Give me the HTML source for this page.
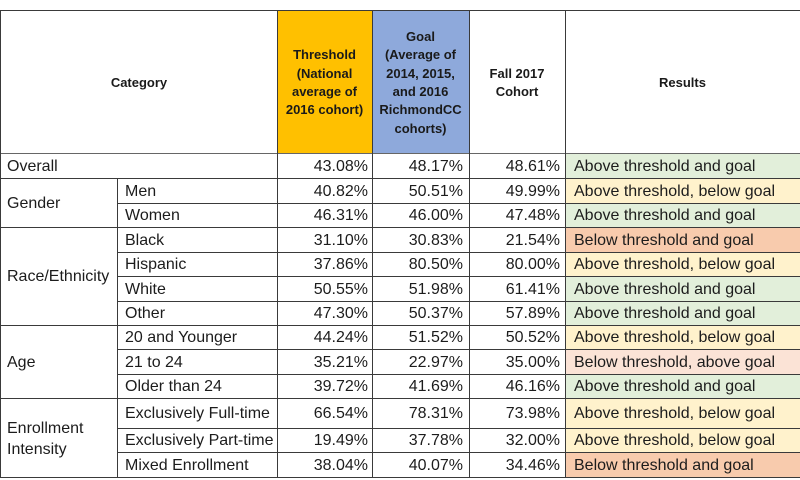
<!DOCTYPE html>
<html><head><meta charset="utf-8"><style>
html,body{margin:0;padding:0;background:#fff;}
body{width:800px;height:480px;position:relative;overflow:hidden;font-family:"Liberation Sans",Arial,sans-serif;color:#1c1c1c;}
.c{position:absolute;display:flex;align-items:center;font-size:16px;white-space:nowrap;box-sizing:border-box;padding-top:2px;}
.r{justify-content:flex-end;}
.h{position:absolute;display:flex;align-items:center;justify-content:center;text-align:center;font-weight:bold;font-size:13px;line-height:18.3px;color:#1a1a1a;padding-top:2px;box-sizing:border-box;}
.hl{position:absolute;height:1px;background:#3a3a3a;}
.vl{position:absolute;width:1px;background:#3a3a3a;}
.g{background:#E2EFDA;} .y{background:#FFF2CC;} .o{background:#F8CBAD;} .p{background:#FBE3D6;}
</style></head><body>

<div style="position:absolute;left:277px;top:11px;width:95px;height:142px;background:#FFC000;"></div>
<div style="position:absolute;left:372px;top:11px;width:97px;height:142px;background:#8EA9DB;"></div>

<div class="h" style="left:1px;top:11px;width:276px;height:142px;">Category</div>
<div class="h" style="left:277px;top:11px;width:95px;height:142px;">Threshold<br>(National<br>average of<br>2016 cohort)</div>
<div class="h" style="left:372px;top:11px;width:97px;height:142px;">Goal<br>(Average of<br>2014, 2015,<br>and 2016<br>RichmondCC<br>cohorts)</div>
<div class="h" style="left:469px;top:11px;width:96px;height:142px;">Fall 2017<br>Cohort</div>
<div class="h" style="left:565px;top:11px;width:235px;height:142px;">Results</div>

<div class="c g" style="left:566px;top:154px;width:234px;height:24px;"></div>
<div class="c y" style="left:566px;top:179px;width:234px;height:24px;"></div>
<div class="c g" style="left:566px;top:204px;width:234px;height:23px;"></div>
<div class="c o" style="left:566px;top:228px;width:234px;height:24px;"></div>
<div class="c y" style="left:566px;top:253px;width:234px;height:23px;"></div>
<div class="c g" style="left:566px;top:277px;width:234px;height:24px;"></div>
<div class="c g" style="left:566px;top:302px;width:234px;height:23px;"></div>
<div class="c y" style="left:566px;top:326px;width:234px;height:23px;"></div>
<div class="c p" style="left:566px;top:350px;width:234px;height:24px;"></div>
<div class="c g" style="left:566px;top:375px;width:234px;height:23px;"></div>
<div class="c y" style="left:566px;top:399px;width:234px;height:29px;"></div>
<div class="c y" style="left:566px;top:429px;width:234px;height:23px;"></div>
<div class="c o" style="left:566px;top:453px;width:234px;height:24px;"></div>

<div class="c" style="left:7px;top:153px;height:25px;">Overall</div>
<div class="c" style="left:7px;top:178px;height:49px;">Gender</div>
<div class="c" style="left:7px;top:227px;height:98px;">Race/Ethnicity</div>
<div class="c" style="left:7px;top:325px;height:73px;">Age</div>
<div class="c" style="left:7px;top:398px;height:79px;line-height:21px;">Enrollment<br>Intensity</div>

<div class="c" style="left:125px;top:178px;height:25px;">Men</div>
<div class="c" style="left:125px;top:203px;height:24px;">Women</div>
<div class="c" style="left:125px;top:227px;height:25px;">Black</div>
<div class="c" style="left:125px;top:252px;height:24px;">Hispanic</div>
<div class="c" style="left:125px;top:276px;height:25px;">White</div>
<div class="c" style="left:125px;top:301px;height:24px;">Other</div>
<div class="c" style="left:125px;top:325px;height:24px;">20 and Younger</div>
<div class="c" style="left:125px;top:349px;height:25px;">21 to 24</div>
<div class="c" style="left:125px;top:374px;height:24px;">Older than 24</div>
<div class="c" style="left:125px;top:398px;height:30px;">Exclusively Full-time</div>
<div class="c" style="left:125px;top:428px;height:24px;">Exclusively Part-time</div>
<div class="c" style="left:125px;top:452px;height:25px;">Mixed Enrollment</div>

<div class="c r" style="left:277px;width:91px;top:153px;height:25px;">43.08%</div>
<div class="c r" style="left:277px;width:91px;top:178px;height:25px;">40.82%</div>
<div class="c r" style="left:277px;width:91px;top:203px;height:24px;">46.31%</div>
<div class="c r" style="left:277px;width:91px;top:227px;height:25px;">31.10%</div>
<div class="c r" style="left:277px;width:91px;top:252px;height:24px;">37.86%</div>
<div class="c r" style="left:277px;width:91px;top:276px;height:25px;">50.55%</div>
<div class="c r" style="left:277px;width:91px;top:301px;height:24px;">47.30%</div>
<div class="c r" style="left:277px;width:91px;top:325px;height:24px;">44.24%</div>
<div class="c r" style="left:277px;width:91px;top:349px;height:25px;">35.21%</div>
<div class="c r" style="left:277px;width:91px;top:374px;height:24px;">39.72%</div>
<div class="c r" style="left:277px;width:91px;top:398px;height:30px;">66.54%</div>
<div class="c r" style="left:277px;width:91px;top:428px;height:24px;">19.49%</div>
<div class="c r" style="left:277px;width:91px;top:452px;height:25px;">38.04%</div>

<div class="c r" style="left:372px;width:91px;top:153px;height:25px;">48.17%</div>
<div class="c r" style="left:372px;width:91px;top:178px;height:25px;">50.51%</div>
<div class="c r" style="left:372px;width:91px;top:203px;height:24px;">46.00%</div>
<div class="c r" style="left:372px;width:91px;top:227px;height:25px;">30.83%</div>
<div class="c r" style="left:372px;width:91px;top:252px;height:24px;">80.50%</div>
<div class="c r" style="left:372px;width:91px;top:276px;height:25px;">51.98%</div>
<div class="c r" style="left:372px;width:91px;top:301px;height:24px;">50.37%</div>
<div class="c r" style="left:372px;width:91px;top:325px;height:24px;">51.52%</div>
<div class="c r" style="left:372px;width:91px;top:349px;height:25px;">22.97%</div>
<div class="c r" style="left:372px;width:91px;top:374px;height:24px;">41.69%</div>
<div class="c r" style="left:372px;width:91px;top:398px;height:30px;">78.31%</div>
<div class="c r" style="left:372px;width:91px;top:428px;height:24px;">37.78%</div>
<div class="c r" style="left:372px;width:91px;top:452px;height:25px;">40.07%</div>

<div class="c r" style="left:469px;width:91px;top:153px;height:25px;">48.61%</div>
<div class="c r" style="left:469px;width:91px;top:178px;height:25px;">49.99%</div>
<div class="c r" style="left:469px;width:91px;top:203px;height:24px;">47.48%</div>
<div class="c r" style="left:469px;width:91px;top:227px;height:25px;">21.54%</div>
<div class="c r" style="left:469px;width:91px;top:252px;height:24px;">80.00%</div>
<div class="c r" style="left:469px;width:91px;top:276px;height:25px;">61.41%</div>
<div class="c r" style="left:469px;width:91px;top:301px;height:24px;">57.89%</div>
<div class="c r" style="left:469px;width:91px;top:325px;height:24px;">50.52%</div>
<div class="c r" style="left:469px;width:91px;top:349px;height:25px;">35.00%</div>
<div class="c r" style="left:469px;width:91px;top:374px;height:24px;">46.16%</div>
<div class="c r" style="left:469px;width:91px;top:398px;height:30px;">73.98%</div>
<div class="c r" style="left:469px;width:91px;top:428px;height:24px;">32.00%</div>
<div class="c r" style="left:469px;width:91px;top:452px;height:25px;">34.46%</div>

<div class="c" style="left:574px;top:153px;height:25px;">Above threshold and goal</div>
<div class="c" style="left:574px;top:178px;height:25px;">Above threshold, below goal</div>
<div class="c" style="left:574px;top:203px;height:24px;">Above threshold and goal</div>
<div class="c" style="left:574px;top:227px;height:25px;">Below threshold and goal</div>
<div class="c" style="left:574px;top:252px;height:24px;">Above threshold, below goal</div>
<div class="c" style="left:574px;top:276px;height:25px;">Above threshold and goal</div>
<div class="c" style="left:574px;top:301px;height:24px;">Above threshold and goal</div>
<div class="c" style="left:574px;top:325px;height:24px;">Above threshold, below goal</div>
<div class="c" style="left:574px;top:349px;height:25px;">Below threshold, above goal</div>
<div class="c" style="left:574px;top:374px;height:24px;">Above threshold and goal</div>
<div class="c" style="left:574px;top:398px;height:30px;">Above threshold, below goal</div>
<div class="c" style="left:574px;top:428px;height:24px;">Above threshold, below goal</div>
<div class="c" style="left:574px;top:452px;height:25px;">Below threshold and goal</div>

<div class="hl" style="left:0;top:10px;width:800px;"></div>
<div class="hl" style="left:0;top:153px;width:800px;background:#666;"></div>
<div class="hl" style="left:0;top:178px;width:800px;"></div>
<div class="hl" style="left:117px;top:203px;width:683px;"></div>
<div class="hl" style="left:0;top:227px;width:800px;"></div>
<div class="hl" style="left:117px;top:252px;width:683px;"></div>
<div class="hl" style="left:117px;top:276px;width:683px;"></div>
<div class="hl" style="left:117px;top:301px;width:683px;"></div>
<div class="hl" style="left:0;top:325px;width:800px;"></div>
<div class="hl" style="left:117px;top:349px;width:683px;"></div>
<div class="hl" style="left:117px;top:374px;width:683px;"></div>
<div class="hl" style="left:0;top:398px;width:800px;"></div>
<div class="hl" style="left:117px;top:428px;width:683px;"></div>
<div class="hl" style="left:117px;top:452px;width:683px;"></div>
<div class="hl" style="left:0;top:477px;width:800px;"></div>

<div class="vl" style="left:0;top:10px;height:468px;"></div>
<div class="vl" style="left:117px;top:178px;height:300px;"></div>
<div class="vl" style="left:277px;top:10px;height:468px;"></div>
<div class="vl" style="left:372px;top:10px;height:468px;"></div>
<div class="vl" style="left:469px;top:10px;height:468px;"></div>
<div class="vl" style="left:565px;top:10px;height:468px;"></div>

</body></html>
